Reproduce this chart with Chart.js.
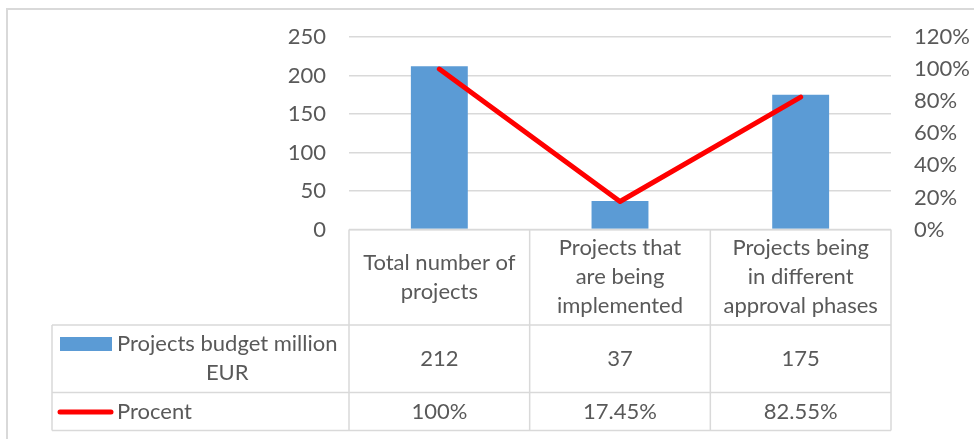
<!DOCTYPE html>
<html>
<head>
<meta charset="utf-8">
<script src="https://cdn.jsdelivr.net/npm/chart.js@4"></script>
<style>
html,body{margin:0;padding:0;background:#fff;}
#wrap{width:974px;height:439px;position:relative;}
</style>
</head>
<body>
<div id="wrap"><canvas id="c" width="974" height="439"></canvas></div>
<script>
const categories = [
  ["Total number of", "projects"],
  ["Projects that", "are being", "implemented"],
  ["Projects being", "in different", "approval phases"]
];
const budgetLabel = ["Projects budget million", "EUR"];
const budgetValues = [212, 37, 175];
const percentLabel = "Procent";
const percentValues = [100, 17.45, 82.55];
const leftTicks = [0, 50, 100, 150, 200, 250];
const rightTicks = [0, 20, 40, 60, 80, 100, 120];

const FONT = "Lato, 'Liberation Sans', sans-serif";
const TEXT = '#595959';
const LINE = '#d9d9d9';
const BLUE = '#5B9BD5';
const RED = '#FF0000';

const tablePlugin = {
  id: 'dataTable',
  afterDraw(chart) {
    const ctx = chart.ctx;
    const ca = chart.chartArea;
    const xs = chart.scales.x;
    const n = categories.length;
    const colW = (ca.right - ca.left) / n;
    const top = ca.bottom;
    const r1 = 325, r2 = 392.5, r3 = 430.5;
    const tblLeft = 52;
    ctx.save();
    // outer frame
    ctx.strokeStyle = LINE;
    ctx.lineWidth = 2;
    ctx.beginPath();
    ctx.moveTo(7, 440); ctx.lineTo(7, 9); ctx.lineTo(975, 9);
    ctx.stroke();
    // table lines
    ctx.lineWidth = 1.5;
    ctx.beginPath();
    ctx.moveTo(ca.left, top); ctx.lineTo(ca.right, top);
    [r1, r2, r3].forEach(y => { ctx.moveTo(tblLeft, y); ctx.lineTo(ca.right, y); });
    ctx.moveTo(tblLeft, r1); ctx.lineTo(tblLeft, r3);
    for (let i = 0; i <= n; i++) {
      const x = ca.left + i * colW;
      ctx.moveTo(x, top); ctx.lineTo(x, r3);
    }
    ctx.stroke();
    // header labels
    ctx.fillStyle = TEXT;
    ctx.font = "22px " + FONT;
    ctx.textAlign = 'center';
    ctx.textBaseline = 'middle';
    const lh = 29;
    const hc = (top + r1) / 2;
    categories.forEach((lines, i) => {
      const cx = xs.getPixelForValue(i);
      const y0 = hc - (lines.length - 1) * lh / 2;
      lines.forEach((t, k) => ctx.fillText(t, cx, y0 + k * lh));
    });
    // row 1: budget
    const c1 = (r1 + r2) / 2;
    budgetValues.forEach((v, i) => ctx.fillText(String(v), xs.getPixelForValue(i), c1));
    ctx.fillStyle = BLUE;
    ctx.fillRect(60, 337, 52, 14);
    ctx.fillStyle = TEXT;
    const w1 = ctx.measureText(budgetLabel[0]).width;
    const lx = 117;
    const by0 = c1 - (budgetLabel.length - 1) * lh / 2;
    budgetLabel.forEach((t, k) => ctx.fillText(t, lx + w1 / 2, by0 + k * lh));
    // row 2: percent
    const c2 = (r2 + r3) / 2;
    percentValues.forEach((v, i) => ctx.fillText(v + '%', xs.getPixelForValue(i), c2));
    ctx.textAlign = 'left';
    ctx.fillText(percentLabel, lx, c2);
    ctx.strokeStyle = RED;
    ctx.lineWidth = 5;
    ctx.lineCap = 'round';
    ctx.beginPath();
    ctx.moveTo(60, c2 + 0.5); ctx.lineTo(111, c2 + 0.5);
    ctx.stroke();
    ctx.restore();
  }
};

new Chart(document.getElementById('c'), {
  data: {
    labels: categories.map(c => c.join(' ')),
    datasets: [
      {
        type: 'line',
        label: percentLabel,
        data: percentValues,
        yAxisID: 'y1',
        borderColor: RED,
        borderWidth: 5,
        borderCapStyle: 'round',
        borderJoinStyle: 'round',
        pointRadius: 0,
        tension: 0,
        order: 0
      },
      {
        type: 'bar',
        label: budgetLabel.join(' '),
        data: budgetValues,
        yAxisID: 'y',
        backgroundColor: BLUE,
        barPercentage: 1,
        categoryPercentage: 0.315,
        order: 1
      }
    ]
  },
  options: {
    responsive: false,
    animation: false,
    layout: { padding: { top: 37, bottom: 209.5, left: 0, right: 0 } },
    plugins: { legend: { display: false }, tooltip: { enabled: false } },
    scales: {
      x: { display: false },
      y: {
        position: 'left',
        min: 0, max: 250,
        afterBuildTicks: s => { s.ticks = leftTicks.map(v => ({ value: v })); },
        afterFit: s => { s.width = 349; },
        grid: { color: LINE, lineWidth: 1.5, drawTicks: false },
        border: { display: false },
        ticks: { padding: 23, color: TEXT, font: { family: FONT, size: 22 } }
      },
      y1: {
        position: 'right',
        min: 0, max: 120,
        afterBuildTicks: s => { s.ticks = rightTicks.map(v => ({ value: v })); },
        afterFit: s => { s.width = 83; },
        grid: { display: false, drawTicks: false },
        border: { display: false },
        ticks: { padding: 23, color: TEXT, font: { family: FONT, size: 22 }, callback: v => v + '%' }
      }
    }
  },
  plugins: [tablePlugin]
});
</script>
</body>
</html>
